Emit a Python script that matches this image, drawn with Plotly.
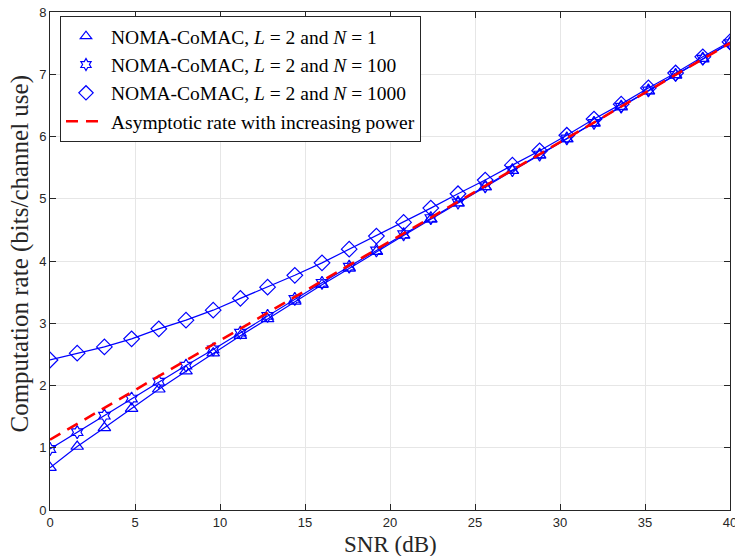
import plotly.graph_objects as go

snr = [0, 1.6, 3.2, 4.8, 6.4, 8.0, 9.6, 11.2, 12.8, 14.4, 16.0, 17.6, 19.2,
       20.8, 22.4, 24.0, 25.6, 27.2, 28.8, 30.4, 32.0, 33.6, 35.2, 36.8, 38.4, 40.0]

rate_n1 = [0.68, 1.02, 1.32, 1.63, 1.94, 2.23, 2.52, 2.80, 3.07, 3.35, 3.62, 3.88, 4.15,
           4.41, 4.67, 4.93, 5.19, 5.45, 5.70, 5.96, 6.22, 6.48, 6.73, 6.99, 7.25, 7.50]
rate_n100 = [0.98, 1.25, 1.515, 1.79, 2.06, 2.32, 2.58, 2.85, 3.12, 3.39, 3.65, 3.91, 4.17,
             4.43, 4.69, 4.94, 5.20, 5.46, 5.71, 5.97, 6.22, 6.48, 6.74, 6.99, 7.25, 7.50]
rate_n1000 = [2.41, 2.52, 2.62, 2.75, 2.91, 3.05, 3.21, 3.40, 3.58, 3.77, 3.97, 4.19, 4.40,
              4.62, 4.85, 5.08, 5.30, 5.54, 5.77, 6.02, 6.28, 6.52, 6.78, 7.02, 7.28, 7.52]

asym_snr = [0, 40]
asym_rate = [1.13, 7.50]

x_ticks = [0, 5, 10, 15, 20, 25, 30, 35, 40]
y_ticks = [0, 1, 2, 3, 4, 5, 6, 7, 8]

labels = [
    "NOMA-CoMAC, <i>L</i> = 2 and <i>N</i> = 1",
    "NOMA-CoMAC, <i>L</i> = 2 and <i>N</i> = 100",
    "NOMA-CoMAC, <i>L</i> = 2 and <i>N</i> = 1000",
    "Asymptotic rate with increasing power",
]
x_title = "SNR (dB)"
y_title = "Computation rate (bits/channel use)"

serif = "Liberation Serif, DejaVu Serif, serif"
sans = "Liberation Sans, Arial, sans-serif"
blue = "#0000ff"

series = [
    (rate_n1, "triangle-up-open", 11),
    (rate_n100, "hexagram-open", 10),
    (rate_n1000, "diamond-open", 12),
]

fig = go.Figure()
for (vals, sym, sz), lab in zip(series, labels[:3]):
    fig.add_trace(go.Scatter(x=snr, y=vals, mode="lines+markers", name=lab, showlegend=False,
                             line=dict(color=blue, width=1.2),
                             marker=dict(symbol=sym, size=sz, color=blue,
                                         line=dict(width=1.2, color=blue))))
fig.add_trace(go.Scatter(x=asym_snr, y=asym_rate, mode="lines", name=labels[3], showlegend=False,
                         line=dict(color="#ff0000", width=2.6, dash="12px,8px")))

# legend entries (markers only for the blue series, as in the reference)
for (vals, sym, sz), lab in zip(series, labels[:3]):
    fig.add_trace(go.Scatter(x=[None], y=[None], mode="markers", name=lab,
                             marker=dict(symbol=sym, size=sz - 1, color=blue,
                                         line=dict(width=1.2, color=blue))))
fig.add_trace(go.Scatter(x=[None], y=[None], mode="lines", name=labels[3],
                         line=dict(color="#ff0000", width=2.6, dash="12px,8px")))

axis_common = dict(
    showline=True, linecolor="#262626", linewidth=1, mirror="ticks",
    ticks="inside", ticklen=6, tickcolor="#262626", tickwidth=1,
    showgrid=True, gridcolor="#e6e6e6", gridwidth=1, zeroline=False,
    tickfont=dict(family=sans, size=13, color="#262626"),
    automargin=False, ticklabeloverflow="allow",
)

fig.update_layout(
    width=735, height=556,
    margin=dict(l=50, r=5, t=12, b=46),
    plot_bgcolor="white", paper_bgcolor="white",
    showlegend=True,
    legend=dict(x=0.0147, y=0.992, xanchor="left", yanchor="top",
                bgcolor="white", bordercolor="#262626", borderwidth=1,
                font=dict(family=serif, size=19.5, color="#000000"),
                tracegroupgap=0, itemwidth=40),
    xaxis=dict(range=[0, 40], tickvals=x_ticks, ticktext=[str(v) for v in x_ticks],
               **axis_common),
    yaxis=dict(range=[0, 8], tickvals=y_ticks, ticktext=[str(v) for v in y_ticks],
               **axis_common),
    annotations=[
        dict(text=x_title, xref="paper", yref="paper", x=0.5, y=0, xanchor="center",
             yanchor="middle", yshift=-34, showarrow=False,
             font=dict(family=serif, size=23, color="#262626")),
        dict(text=y_title, xref="paper", yref="paper", x=0, y=0.515, xanchor="center",
             yanchor="middle", xshift=-30, textangle=-90, showarrow=False,
             font=dict(family=serif, size=25, color="#262626")),
    ],
)

fig.write_html("out.html", config={"displayModeBar": False},
               post_script="document.body.style.margin='0';document.body.style.overflow='hidden';")
